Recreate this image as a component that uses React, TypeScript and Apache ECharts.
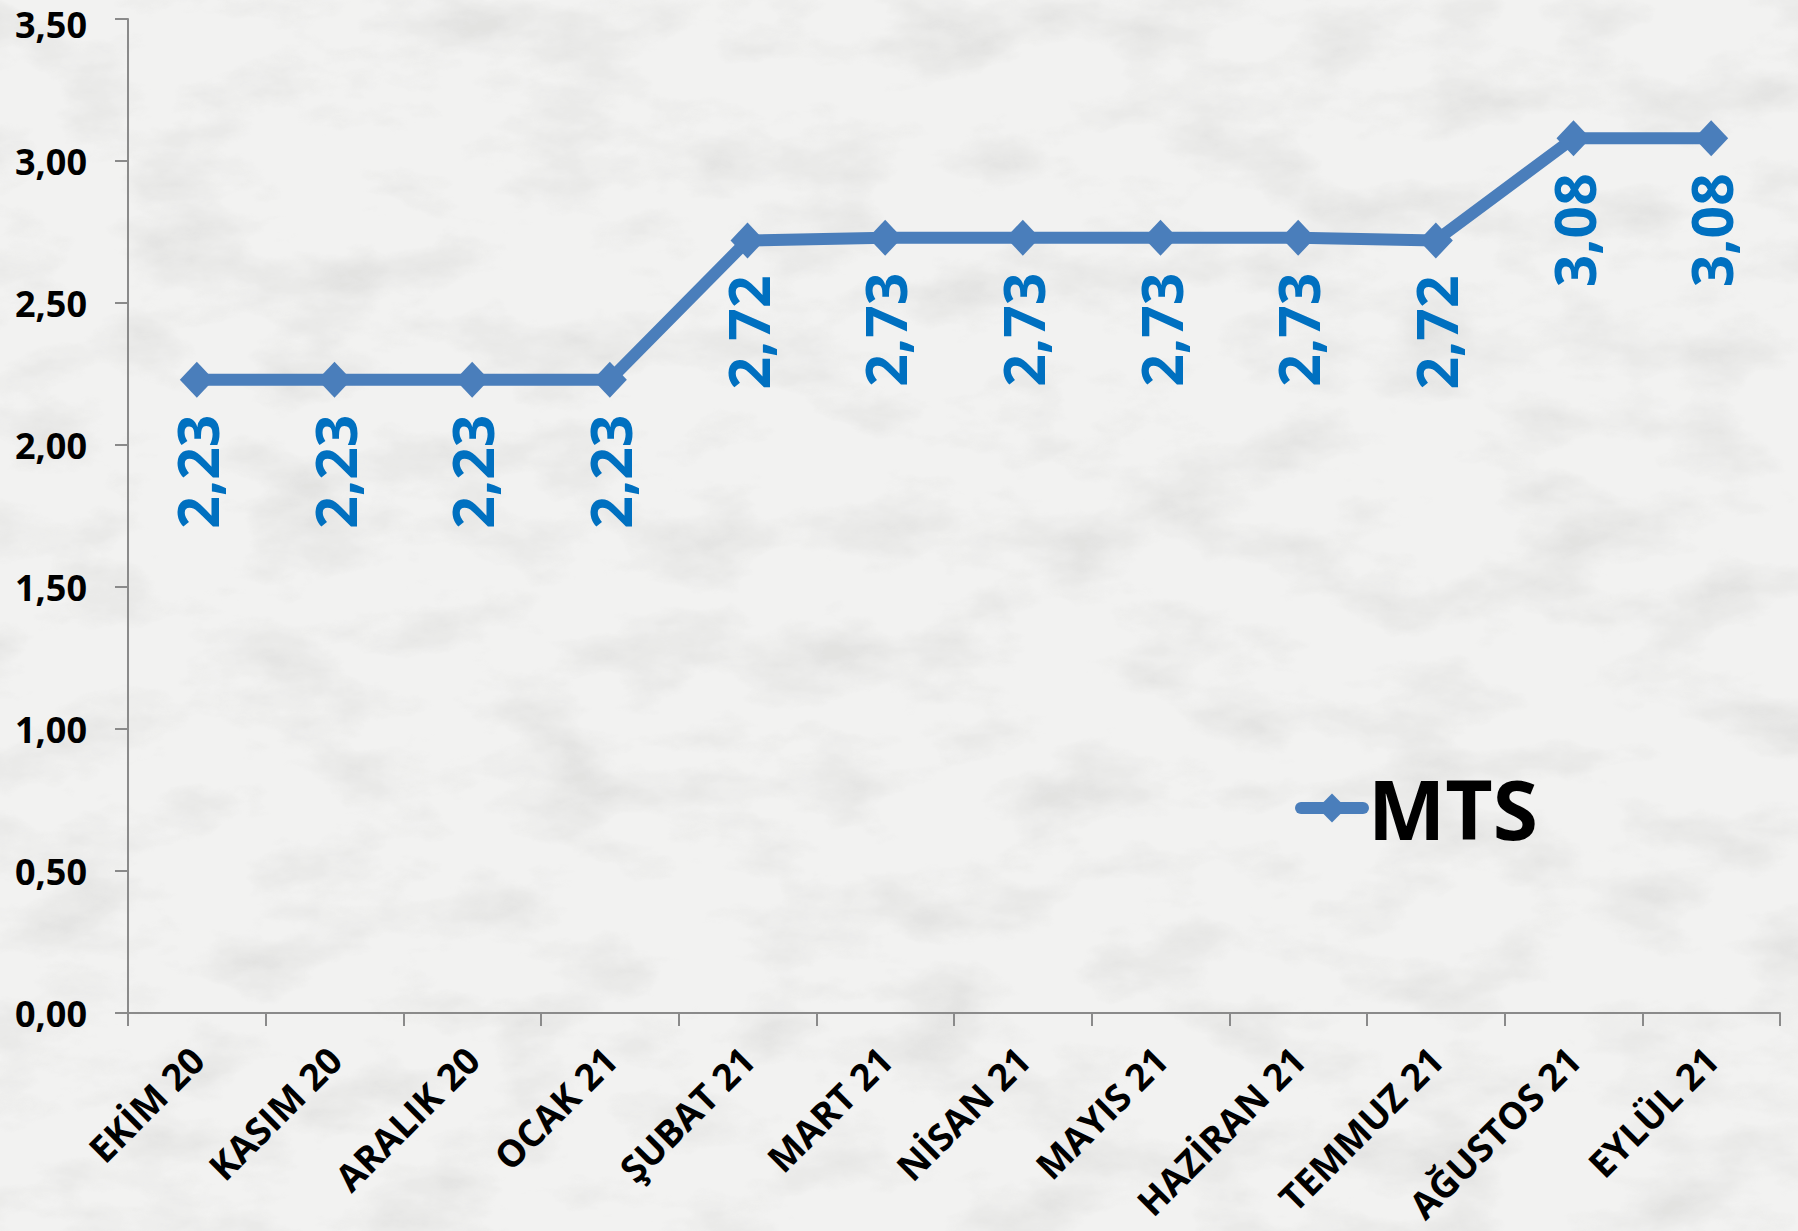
import React, { useEffect, useRef } from "react";
import * as echarts from "echarts";

const categories = [
  "EKİM 20",
  "KASIM 20",
  "ARALIK 20",
  "OCAK 21",
  "ŞUBAT 21",
  "MART 21",
  "NİSAN 21",
  "MAYIS 21",
  "HAZİRAN 21",
  "TEMMUZ 21",
  "AĞUSTOS 21",
  "EYLÜL 21",
];
const mtsValues = [2.23, 2.23, 2.23, 2.23, 2.72, 2.73, 2.73, 2.73, 2.73, 2.72, 3.08, 3.08];
const seriesName = "MTS";
const yMin = 0;
const yMax = 3.5;
const yInterval = 0.5;

const fmt = (v: number) => v.toFixed(2).replace(".", ",");

const marble =
  "data:image/svg+xml;utf8," +
  encodeURIComponent(
    `<svg xmlns='http://www.w3.org/2000/svg' width='1798' height='1231'>
<filter id='f'><feTurbulence type='fractalNoise' baseFrequency='0.008 0.016' numOctaves='6' seed='7'/>
<feColorMatrix values='0 0 0 0 0.70  0 0 0 0 0.70  0 0 0 0 0.69  0 0 0 -2.6 1.4'/></filter>
<rect width='100%' height='100%' fill='#f2f2f1'/>
<rect width='100%' height='100%' filter='url(#f)' opacity='0.6'/>
</svg>`
  );

export default function App() {
  const ref = useRef<HTMLDivElement>(null);
  useEffect(() => {
    if (!ref.current) return;
    const chart = echarts.init(ref.current, null, { renderer: "svg" });
    const font = "'Open Sans', 'DejaVu Sans', sans-serif";
    const yLabelStyle = { fontSize: 36, fontWeight: "bold", color: "#000", fontFamily: font };
    chart.setOption({
      animation: false,
      backgroundColor: "transparent",
      textStyle: { fontFamily: font },
      grid: { left: 128, right: 18, top: 19, bottom: 218, containLabel: false, outerBoundsMode: "none" },
      legend: {
        show: true,
        left: 1290,
        top: 762,
        itemWidth: 62,
        itemHeight: 36,
        itemGap: 10,
        data: [seriesName],
        lineStyle: { width: 12, cap: "round", color: "#4A7EBB" },
        itemStyle: { color: "#4A7EBB" },
        textStyle: { fontSize: 82, fontWeight: "bold", color: "#000", fontFamily: font },
      },
      xAxis: {
        type: "category",
        data: categories,
        boundaryGap: true,
        axisLine: { show: true, lineStyle: { color: "#8a8a8a", width: 2 } },
        axisTick: { show: true, alignWithLabel: false, interval: 0, length: 13, lineStyle: { color: "#8a8a8a", width: 2 } },
        axisLabel: {
          interval: 0,
          rotate: 45,
          margin: 40,
          fontSize: 37,
          fontWeight: "bold",
          color: "#000",
          fontFamily: font,
        },
        splitLine: { show: false },
      },
      yAxis: {
        type: "value",
        min: yMin,
        max: yMax,
        interval: yInterval,
        axisLine: { show: true, lineStyle: { color: "#8a8a8a", width: 2 } },
        axisTick: { show: true, length: 13, lineStyle: { color: "#8a8a8a", width: 2 } },
        axisLabel: {
          margin: 41,
          ...yLabelStyle,
          lineHeight: 36,
          formatter: (v: number) => (v >= yMax ? `{t|${fmt(v)}}` : fmt(v)),
          rich: {
            t: { ...yLabelStyle, lineHeight: 36, padding: [10, 0, 0, 0] },
          },
        },
        splitLine: { show: false },
      },
      series: [
        {
          name: seriesName,
          type: "line",
          data: mtsValues,
          symbol: "diamond",
          symbolSize: [34, 36],
          lineStyle: { width: 12, color: "#4A7EBB" },
          itemStyle: { color: "#4A7EBB" },
          label: {
            show: true,
            position: "bottom",
            distance: 17,
            rotate: 90,
            align: "right",
            verticalAlign: "middle",
            fontSize: 57,
            fontWeight: "bold",
            color: "#0070C0",
            fontFamily: font,
            formatter: (p: any) => fmt(p.value),
          },
        },
      ],
    });
    return () => chart.dispose();
  }, []);
  return (
    <div
      ref={ref}
      style={{
        position: "absolute",
        left: 0,
        top: 0,
        width: 1798,
        height: 1231,
        backgroundColor: "#f0f0ef",
        backgroundImage: `url("${marble}")`,
        backgroundSize: "1798px 1231px",
      }}
    />
  );
}
